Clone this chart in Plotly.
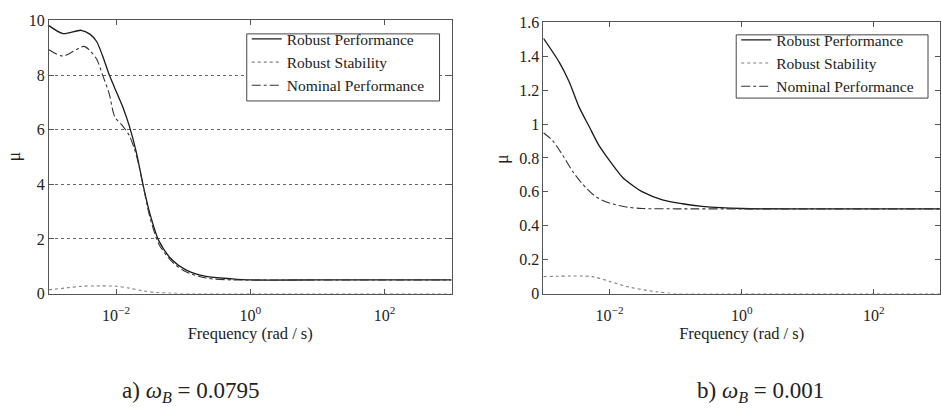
import plotly.graph_objects as go

# ---- case a) omega_B = 0.0795 ----
freq_a_rp = [0.001, 0.00162, 0.00302, 0.00407, 0.00513, 0.00631, 0.00794, 0.00955,
             0.0126, 0.0158, 0.02, 0.0251, 0.0316, 0.0437, 0.0692, 0.11, 0.219,
             0.537, 1.0, 10.0, 100.0, 1000.0]
mu_a_rp = [9.81, 9.52, 9.64, 9.5, 9.23, 8.7, 8.0, 7.53,
           6.83, 6.13, 5.19, 4.02, 2.97, 1.92, 1.22, 0.87, 0.63,
           0.54, 0.5, 0.5, 0.5, 0.5]

freq_a_np = [0.001, 0.00162, 0.00331, 0.00407, 0.00513, 0.00631, 0.00794, 0.00955,
             0.0126, 0.0158, 0.02, 0.0251, 0.0316, 0.0437, 0.0692, 0.11, 0.219,
             0.537, 1.0, 10.0, 100.0, 1000.0]
mu_a_np = [8.93, 8.7, 9.05, 8.9, 8.59, 8.0, 7.3, 6.48,
           6.13, 5.78, 5.08, 4.0, 2.85, 1.8, 1.15, 0.8, 0.57,
           0.5, 0.5, 0.5, 0.5, 0.5]

freq_a_rs = [0.001, 0.002, 0.00316, 0.005, 0.01, 0.0158, 0.025, 0.04, 0.07, 0.15,
             1.0, 10.0, 100.0, 1000.0]
mu_a_rs = [0.14, 0.22, 0.27, 0.28, 0.27, 0.2, 0.1, 0.04, 0.01, 0.0,
           0.0, 0.0, 0.0, 0.0]

# ---- case b) omega_B = 0.001 ----
freq_b_rp = [0.001, 0.00174, 0.00245, 0.00347, 0.0049, 0.00692, 0.0102, 0.0158,
             0.0224, 0.0316, 0.0631, 0.126, 0.251, 1.0, 10.0, 100.0, 1000.0]
mu_b_rp = [1.506, 1.364, 1.25, 1.10, 0.987, 0.874, 0.78, 0.685,
           0.638, 0.6, 0.553, 0.53, 0.515, 0.502, 0.5, 0.5, 0.5]

freq_b_np = [0.001, 0.00138, 0.00195, 0.00275, 0.00389, 0.00617, 0.01, 0.0178,
             0.0316, 0.1, 1.0, 10.0, 100.0, 1000.0]
mu_b_np = [0.949, 0.902, 0.817, 0.723, 0.647, 0.572, 0.534, 0.511,
           0.502, 0.5, 0.5, 0.5, 0.5, 0.5]

freq_b_rs = [0.001, 0.0055, 0.01, 0.02, 0.05, 0.1, 1.0, 10.0, 100.0, 1000.0]
mu_b_rs = [0.1, 0.1, 0.072, 0.038, 0.011, 0.0, 0.0, 0.0, 0.0, 0.0]

series_names = ["Robust Performance", "Robust Stability", "Nominal Performance"]
x_tickvals = [1e-2, 1, 1e2]
x_ticktext = ["10<sup>−2</sup>", "10<sup>0</sup>", "10<sup>2</sup>"]
y_a_ticks = [0, 2, 4, 6, 8, 10]
y_b_ticks = [0, 0.2, 0.4, 0.6, 0.8, 1.0, 1.2, 1.4, 1.6]
y_b_ticktext = ["0", "0.2", "0.4", "0.6", "0.8", "1", "1.2", "1.4", "1.6"]
captions = ["a) <i>ω</i><sub><i>B</i></sub> = 0.0795", "b) <i>ω</i><sub><i>B</i></sub> = 0.001"]

SERIF = "Liberation Serif"
W, H = 941, 408

styles = [
    dict(color="#1a1a1a", width=1.3, dash="solid"),
    dict(color="#808080", width=1.1, dash="dot"),
    dict(color="#333333", width=1.1, dash="dashdot"),
]

fig = go.Figure()

panels = [
    ("x", "y", "legend", [(freq_a_rp, mu_a_rp), (freq_a_rs, mu_a_rs), (freq_a_np, mu_a_np)]),
    ("x2", "y2", "legend2", [(freq_b_rp, mu_b_rp), (freq_b_rs, mu_b_rs), (freq_b_np, mu_b_np)]),
]
for xa, ya, leg, data in panels:
    for name, style, (fx, fy) in zip(series_names, styles, data):
        fig.add_trace(go.Scatter(
            x=fx, y=fy, mode="lines", name=name,
            line=dict(shape="spline", smoothing=0.8, **style),
            xaxis=xa, yaxis=ya, legend=leg, showlegend=True,
        ))


def px_x(p):
    return p / W


def px_y(p):
    return (H - p) / H


axis_common = dict(
    showline=True, linecolor="#555555", linewidth=1, mirror="ticks",
    ticks="inside", ticklen=5, tickcolor="#555555", tickwidth=1,
    tickfont=dict(family=SERIF, size=16, color="#222222"),
    zeroline=False,
)

x_common = dict(axis_common, type="log", range=[-3, 3], tickvals=x_tickvals,
                ticktext=x_ticktext, showgrid=False, ticklabelstandoff=7,
                title=dict(text="Frequency (rad / s)", standoff=1,
                           font=dict(family=SERIF, size=16.5, color="#222222")))

# legend entries float on a framed white box drawn underneath them
legend_common = dict(
    bgcolor="rgba(0,0,0,0)", borderwidth=0,
    font=dict(family=SERIF, size=15.5, color="#222222"),
    xanchor="left", yanchor="top", tracegroupgap=0, itemwidth=30,
)

fig.update_layout(
    width=W, height=H,
    margin=dict(l=0, r=0, t=0, b=0),
    paper_bgcolor="white", plot_bgcolor="white",
    font=dict(family=SERIF, size=16, color="#222222"),
    xaxis=dict(x_common, domain=[px_x(49), px_x(452)], anchor="y"),
    yaxis=dict(axis_common, domain=[px_y(298), px_y(13)], range=[0, 10],
               tickvals=y_a_ticks, anchor="x",
               showgrid=True, gridcolor="#666666", griddash="dot", gridwidth=1),
    xaxis2=dict(x_common, domain=[px_x(544), 1.0], anchor="y2"),
    yaxis2=dict(axis_common, domain=[px_y(298), px_y(15)], range=[0, 1.6],
                tickvals=y_b_ticks, ticktext=y_b_ticktext, anchor="x2",
                showgrid=False),
    legend=dict(legend_common, x=px_x(247), y=px_y(15)),
    legend2=dict(legend_common, x=px_x(737), y=px_y(16)),
    showlegend=True,
)

# legend frames
for x0, y0, x1, y1 in [(247, 27, 440, 97), (737, 28, 929, 94)]:
    fig.add_shape(type="rect", xref="paper", yref="paper",
                  x0=px_x(x0), x1=px_x(x1), y0=px_y(y1), y1=px_y(y0),
                  fillcolor="white", line=dict(color="#444444", width=1),
                  layer="above")

# axis symbol for the structured singular value
for xp, yp in [(14, 155), (503, 157)]:
    fig.add_annotation(text="μ", xref="paper", yref="paper", x=px_x(xp), y=px_y(yp),
                       showarrow=False, textangle=-90, xanchor="center", yanchor="middle",
                       font=dict(family=SERIF, size=18, color="#222222"))

# panel captions
for xp, cap in zip([191, 761], captions):
    fig.add_annotation(text=cap, xref="paper", yref="paper", x=px_x(xp), y=px_y(401),
                       showarrow=False, xanchor="center", yanchor="middle",
                       font=dict(family=SERIF, size=23, color="#222222"))

fig.write_html("out.html")
